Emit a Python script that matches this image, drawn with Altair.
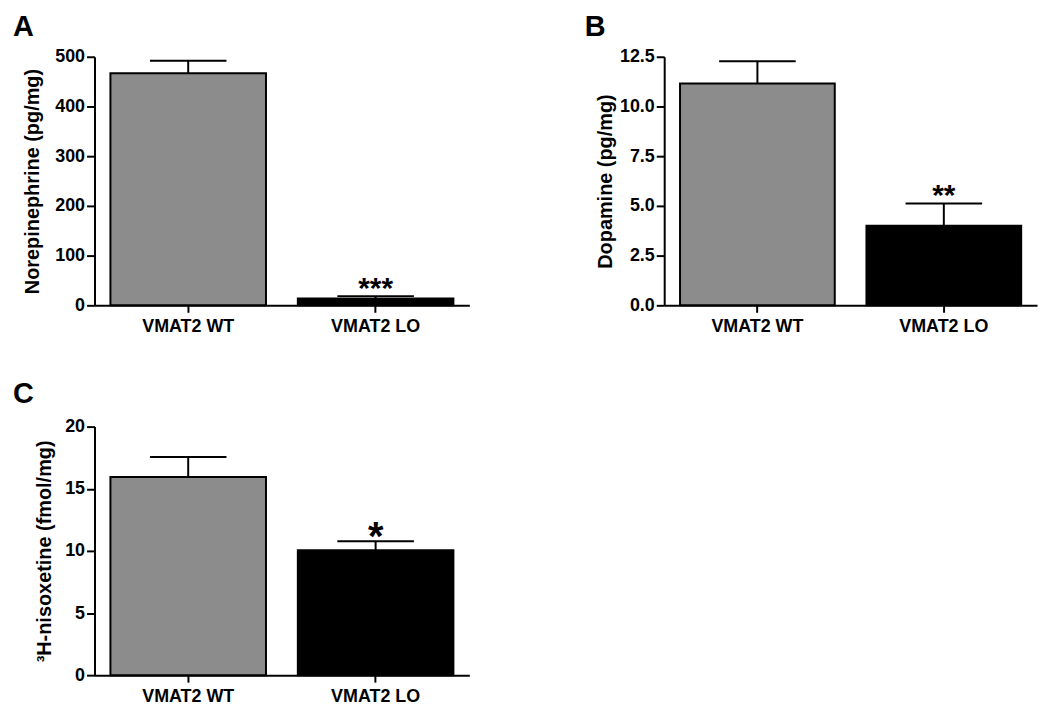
import altair as alt
import pandas as pd

# ---------------- data ----------------
groups = ["VMAT2 WT", "VMAT2 LO"]
fill_colors = ["#8c8c8c", "#000000"]

ne_mean = [467.0, 13.5]
ne_sem = [25.0, 5.0]
ne_sig = ["", "***"]

da_mean = [11.15, 4.0]
da_sem = [1.12, 1.12]
da_sig = ["", "**"]

nis_mean = [15.95, 10.05]
nis_sem = [1.6, 0.72]
nis_sig = ["", "*"]

panel_letters = ["A", "B", "C"]
y_titles = ["Norepinephrine (pg/mg)", "Dopamine (pg/mg)", "³H-nisoxetine (fmol/mg)"]
y_domains = [[0, 500], [0, 12.5], [0, 20]]
y_ticks = [[0, 100, 200, 300, 400, 500],
           [0, 2.5, 5, 7.5, 10, 12.5],
           [0, 5, 10, 15, 20]]
y_formats = ["d", ".1f", "d"]

FONT = "Liberation Sans"


def panel(letter, means, sems, sigs, title, domain, ticks, fmt,
          title_pad, width, star_size, star_dy, letter_x, letter_y):
    df = pd.DataFrame({
        "group": groups,
        "mean": means,
        "upper": [m + s for m, s in zip(means, sems)],
        "sig": sigs,
    })
    x_axis = alt.Axis(title=None, labelAngle=0, labelFont=FONT, labelFontSize=18,
                      labelFontWeight="bold", labelColor="black",
                      domainColor="black", domainWidth=2,
                      tickColor="black", tickWidth=2, tickSize=7, labelPadding=5)
    x = alt.X("group:N", sort=groups,
              scale=alt.Scale(paddingInner=0.17, paddingOuter=0.085),
              axis=x_axis)
    y_scale = alt.Scale(domain=domain, nice=False, zero=True)
    y_axis = alt.Axis(title=title, values=ticks, format=fmt,
                      labelFont=FONT, labelFontSize=18, labelFontWeight="bold",
                      labelColor="black", labelPadding=2,
                      titleFont=FONT, titleFontSize=20, titleFontWeight="bold",
                      titleColor="black", titlePadding=title_pad,
                      domainColor="black", domainWidth=2,
                      tickColor="black", tickWidth=2, tickSize=8)
    base = alt.Chart(df)
    bars = base.mark_bar(stroke="black", strokeWidth=2).encode(
        x=x,
        y=alt.Y("mean:Q", scale=y_scale, axis=y_axis),
        color=alt.Color("group:N", scale=alt.Scale(domain=groups, range=fill_colors),
                        legend=None),
    )
    stem = base.mark_rule(color="black", strokeWidth=2).encode(
        x=x,
        y=alt.Y("mean:Q", scale=y_scale, axis=y_axis),
        y2="upper:Q",
    )
    cap = base.mark_tick(color="black", thickness=2, size=77, opacity=1).encode(
        x=x,
        y=alt.Y("upper:Q", scale=y_scale, axis=y_axis),
    )
    stars = base.mark_text(font=FONT, fontWeight="bold", fontSize=star_size,
                           dy=star_dy, baseline="alphabetic", color="black").encode(
        x=x,
        y=alt.Y("upper:Q", scale=y_scale, axis=y_axis),
        text="sig:N",
    )
    letter_df = pd.DataFrame({"letter": [letter]})
    lt = alt.Chart(letter_df).mark_text(
        align="left", baseline="top", font=FONT, fontSize=29,
        fontWeight="bold", color="black",
    ).encode(x=alt.value(letter_x), y=alt.value(letter_y), text="letter:N")
    return alt.layer(bars, stem, cap, stars, lt).properties(width=width, height=250)


pA = panel(panel_letters[0], ne_mean, ne_sem, ne_sig, y_titles[0], y_domains[0],
           y_ticks[0], y_formats[0], 12, 377, 30, 2, -82, -44)
pB = panel(panel_letters[1], da_mean, da_sem, da_sig, y_titles[1], y_domains[1],
           y_ticks[1], y_formats[1], 4, 375, 30, 2, -80, -44)
pC = panel(panel_letters[2], nis_mean, nis_sem, nis_sig, y_titles[2], y_domains[2],
           y_ticks[2], y_formats[2], 10, 377, 40, 9, -82, -47)

chart = alt.concat(
    pA, pB, pC, columns=2, bounds="flush",
    spacing={"row": 122, "column": 196},
).properties(
    padding={"left": 5, "top": 3, "right": 5, "bottom": 5},
).configure_view(stroke=None).configure_axis(grid=False)

chart.save("out.html", embed_options={"renderer": "svg", "actions": False})
